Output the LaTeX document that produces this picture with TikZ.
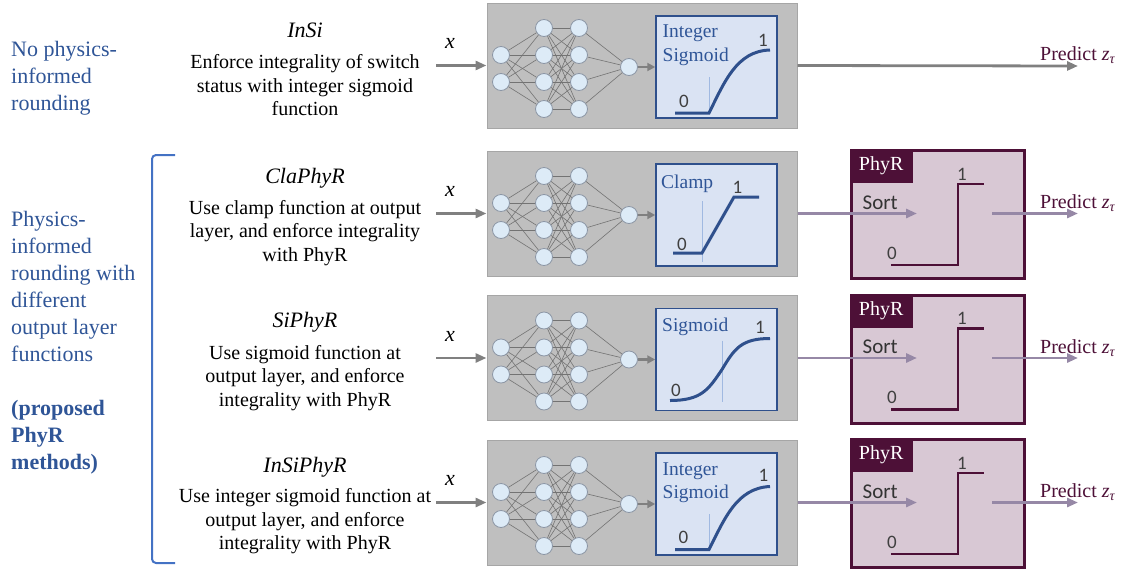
\documentclass[tikz,border=0pt]{standalone}
\usepackage{fontspec}
\setmainfont{Liberation Serif}
\newfontfamily\sortfont{Carlito}
\usetikzlibrary{arrows.meta, positioning, calc}
\definecolor{sideBlue}{RGB}{47, 85, 151}
\definecolor{bracketBlue}{RGB}{68, 114, 196}
\definecolor{netGray}{RGB}{191, 191, 191}
\definecolor{netEdge}{RGB}{166, 166, 166}
\definecolor{actFill}{RGB}{218, 227, 243}
\definecolor{actLine}{RGB}{47, 80, 140}
\definecolor{neuronFill}{RGB}{221, 235, 247}
\definecolor{neuronLine}{RGB}{140, 150, 165}
\definecolor{guideBlue}{RGB}{160, 185, 225}
\definecolor{phyMaroon}{RGB}{77, 16, 55}
\definecolor{phyFill}{RGB}{216, 200, 212}
\definecolor{phyArrow}{RGB}{150, 136, 166}
\definecolor{arrowGray}{RGB}{128, 128, 128}
\newcommand{\ztau}{\textit{z}\textsubscript{\textit{τ}}}
\tikzset{
    netBox/.style={draw=netEdge, line width=1pt, fill=netGray, minimum width=310pt,
        minimum height=125pt, inner sep=0pt},
    actBox/.style={draw=actLine, line width=1.5pt, fill=actFill, minimum width=121pt,
        minimum height=102pt, inner sep=0pt},
    phyBox/.style={draw=phyMaroon, line width=3pt, fill=phyFill, minimum width=173pt,
        minimum height=128pt, inner sep=0pt},
    phyTab/.style={fill=phyMaroon, text=white, minimum width=63pt, minimum height=34pt,
        inner sep=0pt, anchor=north west, font=\fontsize{20}{24}\selectfont},
    neuron/.style={circle, draw=neuronLine, line width=0.8pt, fill=neuronFill,
        minimum size=17pt, inner sep=0pt},
    synapse/.style={draw=black!55, line width=0.6pt},
    actCurve/.style={draw=actLine, line width=3pt},
    guide/.style={draw=guideBlue, line width=1pt},
    stepLine/.style={draw=phyMaroon, line width=2.5pt},
    grayArrow/.style={draw=arrowGray, line width=2.8pt, -{Triangle[length=11pt, width=9pt]}},
    netArrow/.style={draw=black!50, line width=2.8pt, -{Triangle[length=8pt, width=8pt]}},
    phyArrowLine/.style={draw=phyArrow, line width=2.8pt, -{Triangle[length=11pt, width=9pt]}},
    sideText/.style={anchor=west, align=left, inner sep=0pt, text=sideBlue,
        font=\fontsize{22}{27}\selectfont},
    titleText/.style={inner sep=0pt, font=\fontsize{22}{26}\selectfont\itshape},
    descText/.style={align=center, inner sep=0pt, font=\fontsize{20}{23.5}\selectfont},
    xLabel/.style={inner sep=0pt, font=\fontsize{22}{24}\selectfont\itshape},
    actLabel/.style={anchor=base west, inner sep=0pt, text=sideBlue,
        font=\fontsize{19.5}{24}\selectfont},
    digit/.style={inner sep=0pt, text=black!75, font=\sortfont\fontsize{19}{20}\selectfont},
    sortText/.style={anchor=west, inner sep=0pt, text=black!80,
        font=\sortfont\fontsize{21}{24}\selectfont},
    predText/.style={anchor=west, inner sep=0pt, text=phyMaroon,
        font=\fontsize{20}{24}\selectfont},
    bracket/.style={draw=bracketBlue, line width=2pt, rounded corners=4pt},
}

\begin{document}
\begin{tikzpicture}[x=1pt, y=-1pt]
    \useasboundingbox (0,0) rectangle (1125,568);

    % Side notes
    \node[sideText] (noPhys) at (11,78.5) {No physics-\\informed\\rounding};
    \node[sideText] (withPhys) at (11,343) {Physics-\\informed\\rounding with\\different\\output layer\\functions\\[27pt]
        \textbf{(proposed}\\\textbf{PhyR}\\\textbf{methods)}};
    \draw[bracket] (175,155) -- (152,155) -- (152,563) -- (175,563);

    % Method names and descriptions
    \node[titleText] (title1) at (305,30) {InSi};
    \node[descText] (desc1) at (305,85.5) {Enforce integrality of switch\\status with integer sigmoid\\function};
    \node[titleText] (title2) at (305,178) {ClaPhyR};
    \node[descText] (desc2) at (305,233) {Use clamp function at output\\layer, and enforce integrality\\with PhyR};
    \node[titleText] (title3) at (305,322.5) {SiPhyR};
    \node[descText] (desc3) at (305,378) {Use sigmoid function at\\output layer, and enforce\\integrality with PhyR};
    \node[titleText] (title4) at (305,467) {InSiPhyR};
    \node[descText] (desc4) at (305,521.5) {Use integer sigmoid function at\\output layer, and enforce\\integrality with PhyR};

    % Networks
    \foreach \r/\y in {1/65.5, 2/213.5, 3/358, 4/502.5} {
        \node[netBox] (net\r) at (642,\y) {};
        \node[actBox] (act\r) at (716.5,{\y+1.5}) {};
        \foreach \i/\dy in {1/-13.5, 2/13.5}
            \node[neuron] (in\r\i) at (501,{\y+3+\dy}) {};
        \foreach \j/\dy in {1/-40.5, 2/-13.5, 3/13.5, 4/40.5} {
            \node[neuron] (ha\r\j) at (544,{\y+3+\dy}) {};
            \node[neuron] (hb\r\j) at (579,{\y+3+\dy}) {};
        }
        \node[neuron] (out\r) at (629,{\y+1.5}) {};
        \foreach \j in {1,...,4} {
            \foreach \i in {1,2}
                \draw[synapse] (in\r\i) -- (ha\r\j);
            \foreach \k in {1,...,4}
                \draw[synapse] (ha\r\j) -- (hb\r\k);
            \draw[synapse] (hb\r\j) -- (out\r);
        }
        \draw[netArrow] (out\r) -- (act\r);

        % input x
        \coordinate (xin\r) at (436,\y);
        \draw[grayArrow] (xin\r) -- (net\r.west);
        \node[xLabel] (xlab\r) at (450,{\y-22}) {x};
    }

    % Integer sigmoid (InSi)
    \begin{scope}[shift={(act1.center)}]
        \draw[guide] (-7.5,10) -- (-7.5,46);
        \draw[actCurve] (-41.5,46) -- (-7.5,46) .. controls (8,15) and (20,-16) .. (53.5,-17);
        \node[actLabel] (int1) at (-54,-30) {Integer};
        \node[actLabel] (sig1) at (-54,-6) {Sigmoid};
        \node[digit] (one1) at (46.5,-27) {1};
        \node[digit] (zero1) at (-32.5,34) {0};
    \end{scope}

    % Clamp
    \begin{scope}[shift={(act2.center)}]
        \draw[guide] (-14.5,-14) -- (-14.5,47);
        \draw[actCurve] (-43.5,38) -- (-14.5,38) -- (17.5,-18) -- (42.5,-18);
        \node[actLabel] (clamp2) at (-55.5,-27) {Clamp};
        \node[digit] (one2) at (21,-28) {1};
        \node[digit] (zero2) at (-34.5,29) {0};
    \end{scope}

    % Sigmoid
    \begin{scope}[shift={(act3.center)}]
        \draw[guide] (5.5,-19) -- (5.5,42);
        \draw[actCurve] (-46.5,41) .. controls (-15,41) and (-8,30) .. (5.5,10)
            .. controls (18,-11) and (25,-21) .. (53.5,-21);
        \node[actLabel] (sig3) at (-54.5,-28) {Sigmoid};
        \node[digit] (one3) at (43.5,-32) {1};
        \node[digit] (zero3) at (-40.5,31) {0};
    \end{scope}

    % Integer sigmoid (InSiPhyR)
    \begin{scope}[shift={(act4.center)}]
        \draw[guide] (-7.5,10) -- (-7.5,45.5);
        \draw[actCurve] (-41.5,45.5) -- (-7.5,45.5) .. controls (8,15) and (20,-16) .. (53.5,-17.5);
        \node[actLabel] (int4) at (-54,-28.5) {Integer};
        \node[actLabel] (sig4) at (-54,-5.5) {Sigmoid};
        \node[digit] (one4) at (47,-28.5) {1};
        \node[digit] (zero4) at (-33,33.5) {0};
    \end{scope}

    % Output without rounding
    \coordinate (pred1) at (1078,66);
    \draw[grayArrow] (net1.east) -- (pred1);
    \node[predText] (predLab1) at (1040,55) {Predict \ztau};

    % PhyR rounding
    \foreach \r/\y in {2/213.5, 3/358, 4/502.5} {
        \node[phyBox] (phyr\r) at (937.5,{\y+1}) {};
        \node[phyTab] (tab\r) at (phyr\r.north west) {PhyR};
        \node[sortText] (sort\r) at ($(phyr\r.center)+(-75,-12)$) {Sort};
        \draw[stepLine] ($(phyr\r.center)+(-46.5,50.5)$) -- ++(67,0) -- ++(0,-81) -- ++(26,0);
        \node[digit] (step1\r) at ($(phyr\r.center)+(24.5,-40.5)$) {1};
        \node[digit] (step0\r) at ($(phyr\r.center)+(-45.5,38.5)$) {0};
        \coordinate (sortIn\r) at (917,\y);
        \coordinate (sortOut\r) at (992,\y);
        \coordinate (pred\r) at (1078,\y);
        \draw[phyArrowLine] (net\r.east) -- (sortIn\r);
        \draw[phyArrowLine] (sortOut\r) -- (pred\r);
        \node[predText] (predLab\r) at (1040,{\y-10}) {Predict \ztau};
    }

\end{tikzpicture}
\end{document}
